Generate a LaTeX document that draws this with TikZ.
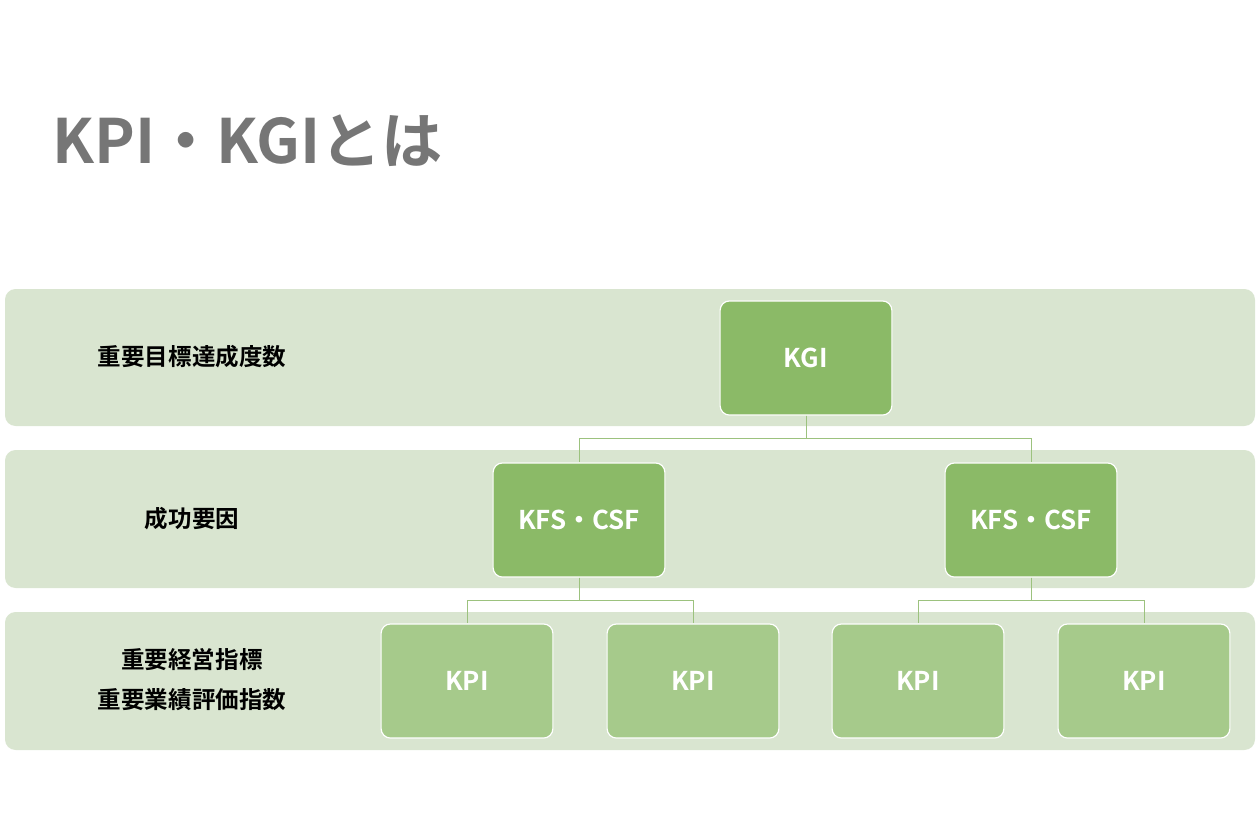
\documentclass[tikz,border=0pt]{standalone}
\usepackage{fontspec}
\setmainfont{Noto Sans CJK JP}[BoldFont={Noto Sans CJK JP Bold}]
\definecolor{band}{HTML}{D9E5D0}
\definecolor{dark}{HTML}{8BBA67}
\definecolor{light}{HTML}{A6CA8B}
\definecolor{ln}{HTML}{9CC27E}
\definecolor{ttl}{HTML}{767676}
\begin{document}
\begin{tikzpicture}[x=0.85pt,y=-0.85pt,
 bandbox/.style={fill=band,draw=none,rounded corners=9pt},
 gbox/.style={fill=dark,draw=white,line width=1pt,rounded corners=8pt,minimum width=146pt,minimum height=97pt,text=white,font=\fontsize{22}{26}\selectfont\bfseries},
 pbox/.style={gbox,fill=light},
 lab/.style={font=\fontsize{20}{34}\selectfont\bfseries,align=center},
 conn/.style={draw=ln,line width=0.7pt}]
\useasboundingbox (0,0) rectangle (1260,840);
\node[anchor=base west,text=ttl,font=\fontsize{52}{60}\selectfont\bfseries,inner sep=0] (title) at (52,163) {KPI・KGIとは};
\fill[bandbox] (5,289) rectangle (1255,426);
\fill[bandbox] (5,450) rectangle (1255,588);
\fill[bandbox] (5,612) rectangle (1255,750);
\node[lab] (l1) at (192,357) {重要目標達成度数};
\node[lab] (l2) at (192,519) {成功要因};
\node[lab] (l3) at (192,680) {重要経営指標\\重要業績評価指数};
\node[gbox] (kgi) at (806,358) {KGI};
\node[gbox] (f1) at (579,520) {KFS・CSF};
\node[gbox] (f2) at (1031,520) {KFS・CSF};
\node[pbox] (p1) at (467,681) {KPI};
\node[pbox] (p2) at (693,681) {KPI};
\node[pbox] (p3) at (918,681) {KPI};
\node[pbox] (p4) at (1144,681) {KPI};
\draw[conn] (kgi.south) -- ++(0,23) -| (f1.north);
\draw[conn] (kgi.south) -- ++(0,23) -| (f2.north);
\draw[conn] (f1.south) -- ++(0,23) -| (p1.north);
\draw[conn] (f1.south) -- ++(0,23) -| (p2.north);
\draw[conn] (f2.south) -- ++(0,23) -| (p3.north);
\draw[conn] (f2.south) -- ++(0,23) -| (p4.north);
\end{tikzpicture}
\end{document}
